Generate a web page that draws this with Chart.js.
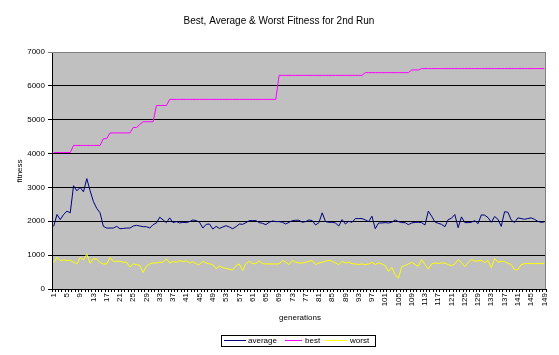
<!DOCTYPE html>
<html>
<head>
<meta charset="utf-8">
<script src="https://cdn.jsdelivr.net/npm/chart.js@4/dist/chart.umd.min.js"></script>
<style>
html,body{margin:0;padding:0;background:#fff;}
canvas{display:block;}
</style>
</head>
<body>
<canvas id="c" width="559" height="355"></canvas>
<script>
const chartTitle = "Best, Average & Worst Fitness for 2nd Run";
const xTitle = "generations";
const yTitle = "fitness";
const seriesNames = ["average", "best", "worst"];

const generations = Array.from({length: 149}, (_, i) => String(i + 1));

const average = [
1850,2200,2050,2200,2300,2250,3050,2900,3000,2870,
3260,2900,2580,2380,2250,1850,1800,1800,1800,1850,
1780,1790,1800,1800,1860,1880,1860,1840,1840,1800,
1900,1950,2120,2040,1960,2100,1960,1990,1950,1970,
1960,1990,2040,2020,1970,1800,1910,1920,1770,1850,
1790,1830,1870,1830,1780,1840,1920,1910,1960,2020,
2020,2020,1960,1940,1900,1970,2010,1990,1990,1970,
1920,1970,2020,2030,2030,1970,1990,2040,2020,1890,
1960,2250,1990,1970,1970,1950,1860,2050,1920,2000,
1970,2080,2080,2080,2040,1990,2150,1780,1950,1950,
1960,1950,1970,2040,1990,1960,1960,1900,1950,1970,
1970,1960,1890,2300,2150,1980,1940,1910,1840,2050,
2090,2200,1810,2130,1960,1960,1970,2020,1930,2190,
2180,2110,1970,2140,2060,1850,2280,2270,2040,1960,
2100,2080,2060,2080,2100,2060,2000,1970,1980
];

const best = [
4030,4030,4030,4030,4030,4030,4240,4240,4240,4240,
4240,4240,4240,4240,4240,4440,4440,4610,4610,4610,
4610,4610,4610,4610,4770,4770,4860,4940,4940,4940,
4940,5420,5420,5420,5420,5600,5600,5600,5600,5600,
5600,5600,5600,5600,5600,5600,5600,5600,5600,5600,
5600,5600,5600,5600,5600,5600,5600,5600,5600,5600,
5600,5600,5600,5600,5600,5600,5600,5600,6310,6310,
6310,6310,6310,6310,6310,6310,6310,6310,6310,6310,
6310,6310,6310,6310,6310,6310,6310,6310,6310,6310,
6310,6310,6310,6310,6390,6390,6390,6390,6390,6390,
6390,6390,6390,6390,6390,6390,6390,6390,6470,6470,
6470,6510,6510,6510,6510,6510,6510,6510,6510,6510,
6510,6510,6510,6510,6510,6510,6510,6510,6510,6510,
6510,6510,6510,6510,6510,6510,6510,6510,6510,6510,
6510,6510,6510,6510,6510,6510,6510,6510,6510
];

const worst = [
780,940,840,860,840,850,790,740,930,860,
1030,760,900,880,790,740,740,930,810,820,
820,790,790,650,740,720,690,490,680,740,
770,770,790,790,890,770,810,790,840,810,
830,770,810,740,720,820,770,740,720,600,
680,630,610,580,560,690,740,550,750,820,
750,750,830,750,740,740,740,740,740,840,
790,720,840,790,770,770,790,820,840,720,
770,790,820,850,820,770,720,820,770,790,
750,740,720,740,720,740,790,720,770,740,
690,520,640,420,320,660,690,740,790,720,
670,870,720,590,740,770,750,770,770,720,
690,740,870,780,660,780,880,820,830,850,
780,840,630,900,790,820,810,760,720,570,
570,720,750,750,750,750,750,750,750
];

const yTicks = [0,1000,2000,3000,4000,5000,6000,7000];
const yTickLabels = ["0","1000","2000","3000","4000","5000","6000","7000"];

const colors = {average: "#000080", best: "#ff00ff", worst: "#ffff00"};
const FONT = "'Liberation Sans', Arial, sans-serif";

const decor = {
  id: "decor",
  beforeDraw(chart) {
    const {ctx, chartArea: a} = chart;
    ctx.save();
    ctx.fillStyle = "#fff";
    ctx.fillRect(0, 0, chart.width, chart.height);
    ctx.fillStyle = "#c0c0c0";
    ctx.fillRect(a.left, a.top, a.right - a.left, a.bottom - a.top);
    ctx.restore();
  },
  afterDraw(chart) {
    const {ctx, chartArea: a} = chart;
    ctx.save();
    ctx.strokeStyle = "#808080";
    ctx.lineWidth = 1;
    ctx.beginPath();
    ctx.moveTo(a.left, a.top + 0.5);
    ctx.lineTo(a.right - 0.5, a.top + 0.5);
    ctx.lineTo(a.right - 0.5, a.bottom);
    ctx.stroke();
    ctx.fillStyle = "#000";
    ctx.font = "10px " + FONT;
    ctx.textAlign = "center";
    ctx.textBaseline = "middle";
    ctx.fillText(chartTitle, 279, 21);
    ctx.font = "8px " + FONT;
    ctx.fillText(xTitle, 300, 318);
    ctx.save();
    ctx.translate(20, 171);
    ctx.rotate(-Math.PI / 2);
    ctx.fillText(yTitle, 0, 0);
    ctx.restore();
    const lx = 221, ly = 335, lw = 154, lh = 11;
    ctx.fillStyle = "#fff";
    ctx.fillRect(lx, ly, lw, lh);
    ctx.strokeStyle = "#000";
    ctx.strokeRect(lx + 0.5, ly + 0.5, lw, lh);
    const entries = [
      {name: seriesNames[0], c: colors.average, x0: 224, x1: 246, tx: 248},
      {name: seriesNames[1], c: colors.best, x0: 285, x1: 302, tx: 305},
      {name: seriesNames[2], c: colors.worst, x0: 325, x1: 347, tx: 350}
    ];
    ctx.textAlign = "left";
    ctx.font = "8px " + FONT;
    entries.forEach(e => {
      ctx.strokeStyle = e.c;
      ctx.beginPath();
      ctx.moveTo(e.x0, ly + 5.5);
      ctx.lineTo(e.x1, ly + 5.5);
      ctx.stroke();
      ctx.fillStyle = "#000";
      ctx.fillText(e.name, e.tx, ly + 6);
    });
    ctx.restore();
  }
};

new Chart(document.getElementById("c"), {
  type: "line",
  data: {
    labels: generations,
    datasets: [
      {label: seriesNames[0], data: average, borderColor: colors.average, backgroundColor: colors.average},
      {label: seriesNames[1], data: best, borderColor: colors.best, backgroundColor: colors.best},
      {label: seriesNames[2], data: worst, borderColor: colors.worst, backgroundColor: colors.worst}
    ]
  },
  options: {
    responsive: false,
    animation: false,
    devicePixelRatio: 1,
    layout: {padding: {top: 52, right: 13, left: 0, bottom: 0}},
    elements: {
      line: {borderWidth: 1, tension: 0},
      point: {radius: 0, hoverRadius: 0}
    },
    plugins: {
      legend: {display: false},
      title: {display: false},
      tooltip: {enabled: false}
    },
    scales: {
      x: {
        type: "category",
        offset: true,
        afterFit(s) { s.height = 66; },
        grid: {
          offset: true,
          drawOnChartArea: false,
          drawTicks: true,
          tickLength: 3,
          color: "#000",
          lineWidth: 1
        },
        border: {display: true, color: "#000", width: 1},
        ticks: {
          autoSkip: false,
          maxRotation: 90,
          minRotation: 90,
          padding: 1,
          color: "#000",
          font: {size: 8, family: FONT},
          callback(val, idx) { return idx % 4 === 0 ? generations[idx] : ""; }
        }
      },
      y: {
        min: 0,
        max: 7000,
        afterFit(s) { s.width = 52; },
        afterBuildTicks(s) { s.ticks = yTicks.map(v => ({value: v})); },
        grid: {
          color: ctx => (ctx.tick && ctx.tick.value === 7000) ? "#808080" : "#000",
          lineWidth: 1,
          drawTicks: true,
          tickLength: 4
        },
        border: {display: true, color: "#000", width: 1},
        ticks: {
          padding: 3,
          color: "#000",
          font: {size: 8, family: FONT},
          callback(val, idx) { return yTickLabels[idx]; }
        }
      }
    }
  },
  plugins: [decor]
});
</script>
</body>
</html>
